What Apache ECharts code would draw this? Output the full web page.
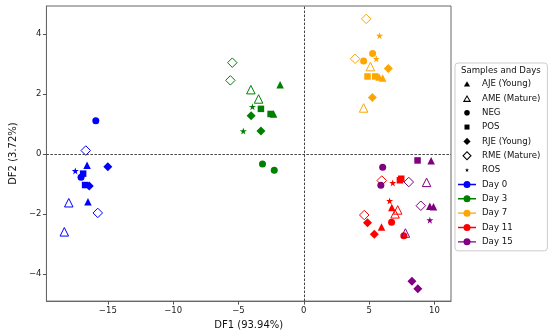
<!DOCTYPE html>
<html>
<head>
<meta charset="utf-8">
<script src="https://cdn.jsdelivr.net/npm/echarts@6/dist/echarts.min.js"></script>
<style>html,body{margin:0;padding:0;background:#fff}#c{width:550px;height:335px}</style>
</head>
<body>
<div id="c"></div>
<script>
// ---- data ----
const sampleCodes = ['AJE', 'AME', 'NEG', 'POS', 'RJE', 'RME', 'ROS'];
const sampleNames = ['AJE (Young)', 'AME (Mature)', 'NEG', 'POS', 'RJE (Young)', 'RME (Mature)', 'ROS'];
const dayNames = ['Day 0', 'Day 3', 'Day 7', 'Day 11', 'Day 15'];
const xTicks = [-15, -10, -5, 0, 5, 10];
const yTicks = [-4, -2, 0, 2, 4];
const xLabel = 'DF1 (93.94%)';
const yLabel = 'DF2 (3.72%)';
const legendTitle = 'Samples and Days';

// [sample, DF1, DF2]
const day0 = [
  ['AJE', -16.59, -0.38], ['AJE', -16.52, -1.60],
  ['AME', -17.99, -1.63], ['AME', -18.33, -2.60],
  ['NEG', -15.92, 1.10], ['NEG', -17.05, -0.78],
  ['POS', -16.89, -0.66], ['POS', -16.74, -1.04],
  ['RJE', -15.00, -0.43], ['RJE', -16.42, -1.07],
  ['RME', -16.69, 0.11], ['RME', -15.77, -1.97],
  ['ROS', -17.49, -0.57]
];
const day3 = [
  ['AJE', -1.81, 2.30], ['AJE', -2.31, 1.33],
  ['AME', -4.05, 2.14], ['AME', -3.46, 1.83],
  ['NEG', -3.16, -0.34], ['NEG', -2.26, -0.55],
  ['POS', -3.28, 1.50], ['POS', -2.54, 1.33],
  ['RJE', -4.03, 1.27], ['RJE', -3.28, 0.76],
  ['RME', -5.47, 3.04], ['RME', -5.62, 2.45],
  ['ROS', -3.93, 1.57], ['ROS', -4.63, 0.76]
];
const day7 = [
  ['AJE', 5.77, 2.56], ['AJE', 6.04, 2.53],
  ['AME', 5.10, 2.91], ['AME', 4.58, 1.53],
  ['NEG', 5.27, 3.35], ['NEG', 4.58, 3.10],
  ['POS', 4.88, 2.58], ['POS', 5.47, 2.58],
  ['RJE', 6.47, 2.85], ['RJE', 5.25, 1.88],
  ['RME', 4.78, 4.50], ['RME', 3.93, 3.17],
  ['ROS', 5.80, 3.94], ['ROS', 5.55, 3.17]
];
const day11 = [
  ['AJE', 6.74, -1.79], ['AJE', 5.95, -2.44],
  ['AME', 7.19, -1.87], ['AME', 6.99, -2.00],
  ['NEG', 6.72, -2.28], ['NEG', 7.66, -2.73],
  ['POS', 7.46, -0.83], ['POS', 7.36, -0.88],
  ['RJE', 4.88, -2.30], ['RJE', 5.40, -2.68],
  ['RME', 5.97, -0.89], ['RME', 4.63, -2.04],
  ['ROS', 6.81, -0.97], ['ROS', 6.57, -1.57]
];
const day15 = [
  ['AJE', 9.75, -0.23], ['AJE', 9.65, -1.75], ['AJE', 9.93, -1.76],
  ['AME', 9.40, -0.95], ['AME', 7.78, -2.64],
  ['NEG', 6.04, -0.45], ['NEG', 5.90, -1.05],
  ['POS', 8.71, -0.22],
  ['RJE', 8.28, -4.25], ['RJE', 8.73, -4.50],
  ['RME', 8.04, -0.94], ['RME', 8.96, -1.73],
  ['ROS', 9.65, -2.21]
];
const dayData = [day0, day3, day7, day11, day15];

// ---- styles ----
const dayColors = ['#0000ff', '#008000', '#ffa500', '#ff0000', '#800080'];
const STAR = 'path://M0,-1 L0.2245,-0.309 L0.951,-0.309 L0.363,0.118 L0.588,0.809 L0,0.382 L-0.588,0.809 L-0.363,0.118 L-0.951,-0.309 L-0.2245,-0.309 Z';
const markerStyle = {
  AJE: { symbol: 'triangle', size: 7.5, open: false },
  AME: { symbol: 'triangle', size: 8.5, open: true },
  NEG: { symbol: 'circle', size: 7, open: false },
  POS: { symbol: 'rect', size: 6.5, open: false },
  RJE: { symbol: 'diamond', size: 9, open: false },
  RME: { symbol: 'diamond', size: 9.5, open: true },
  ROS: { symbol: STAR, size: 7, open: false }
};
const PAD = 'M0,0 M20,10 ';
const legendIcons = {
  AJE: 'path://' + PAD + 'M10,2.2 L13.1,7.6 L6.9,7.6 Z',
  AME: 'path://' + PAD + 'M10,1.6 L14.1,8.6 L5.9,8.6 Z M10,3.7 L7.75,7.5 L12.25,7.5 Z',
  NEG: 'path://' + PAD + 'M7.2,5 A2.8,2.8 0 1 1 12.8,5 A2.8,2.8 0 1 1 7.2,5 Z',
  POS: 'path://' + PAD + 'M7.5,2.5 L12.5,2.5 L12.5,7.5 L7.5,7.5 Z',
  RJE: 'path://' + PAD + 'M10,1.4 L13.6,5 L10,8.6 L6.4,5 Z',
  RME: 'path://' + PAD + 'M10,0.3 L14.7,5 L10,9.7 L5.3,5 Z M10,1.85 L6.85,5 L10,8.15 L13.15,5 Z',
  ROS: 'path://' + PAD + 'M10,2.8 L10.49,4.32 L12.09,4.32 L10.8,5.26 L11.29,6.78 L10,5.84 L8.71,6.78 L9.2,5.26 L7.91,4.32 L9.51,4.32 Z',
  DAY: 'path://' + PAD + 'M1,4.3 L6.6,4.3 L6.6,5.7 L1,5.7 Z M13.4,4.3 L19,4.3 L19,5.7 L13.4,5.7 Z M6.5,5 A3.5,3.5 0 1 1 13.5,5 A3.5,3.5 0 1 1 6.5,5 Z'
};
const FONT = 'DejaVu Sans';

const series = [];
dayData.forEach((pts, di) => {
  const c = dayColors[di];
  const s = {
    name: dayNames[di],
    type: 'scatter',
    silent: true,
    itemStyle: { color: c, opacity: 1 },
    emphasis: { disabled: true },
    data: pts.map(p => {
      const m = markerStyle[p[0]];
      return {
        value: [p[1], p[2]],
        symbol: m.symbol,
        symbolSize: m.size,
        itemStyle: m.open
          ? { color: 'rgba(255,255,255,0)', borderColor: c, borderWidth: 1, opacity: 1 }
          : { color: c, borderWidth: 0, opacity: 1 }
      };
    })
  };
  if (di === 0) {
    s.markLine = {
      silent: true, symbol: 'none', animation: false,
      label: { show: false },
      lineStyle: { color: '#444', width: 1, type: [2.5, 1.5] },
      data: [{ xAxis: 0 }, { yAxis: 0 }]
    };
  }
  series.push(s);
});
sampleCodes.forEach((code, i) => {
  series.push({ name: sampleNames[i], type: 'scatter', data: [], itemStyle: { color: '#000', opacity: 1 } });
});

const legendData = [];
sampleCodes.forEach((code, i) => {
  legendData.push({
    name: sampleNames[i],
    icon: legendIcons[code],
    itemStyle: { color: '#000', borderWidth: 0, opacity: 1 }
  });
});
dayNames.forEach((d, i) => {
  legendData.push({ name: d, icon: legendIcons.DAY, itemStyle: { color: dayColors[i], borderWidth: 0, opacity: 1 } });
});

const minusFmt = v => String(v).replace('-', '\u2212');

const chart = echarts.init(document.getElementById('c'), null, { renderer: 'canvas' });
chart.setOption({
  animation: false,
  backgroundColor: '#fff',
  textStyle: { fontFamily: FONT },
  title: {
    text: legendTitle, left: 461, top: 66, padding: 0,
    textStyle: { fontFamily: FONT, fontSize: 8.6, fontWeight: 'normal', color: '#111' }
  },
  legend: {
    orient: 'vertical', left: 455, top: 63,
    padding: [16, 7, 4, 2],
    itemWidth: 20, itemHeight: 10, itemGap: 4.35,
    borderColor: '#ccc', borderWidth: 1, borderRadius: 3,
    selectedMode: false,
    textStyle: { fontFamily: FONT, fontSize: 8.6, color: '#111' },
    data: legendData
  },
  grid: {
    left: 36, right: 99, top: 6, bottom: 30,
    show: true, borderColor: '#666', borderWidth: 1, backgroundColor: 'transparent'
  },
  xAxis: {
    type: 'value', min: -19.7, max: 11.27,
    name: xLabel, nameLocation: 'middle', nameGap: 16,
    nameTextStyle: { fontFamily: FONT, fontSize: 10, color: '#111' },
    splitLine: { show: false },
    axisLine: { show: true, onZero: false, lineStyle: { color: '#666' } },
    axisTick: { show: true, inside: false, length: 3.5, lineStyle: { color: '#555' }, customValues: xTicks },
    axisLabel: { margin: 5, fontSize: 8.5, color: '#222', fontFamily: FONT, customValues: xTicks, formatter: minusFmt }
  },
  yAxis: {
    type: 'value', min: -4.91, max: 4.93,
    name: yLabel, nameLocation: 'middle', nameGap: 19, nameRotate: 90,
    nameTextStyle: { fontFamily: FONT, fontSize: 10, color: '#111' },
    splitLine: { show: false },
    axisLine: { show: true, onZero: false, lineStyle: { color: '#666' } },
    axisTick: { show: true, inside: false, length: 3.5, lineStyle: { color: '#555' }, customValues: yTicks },
    axisLabel: { margin: 5, fontSize: 8.5, color: '#222', fontFamily: FONT, customValues: yTicks, formatter: minusFmt }
  },
  series: series
});
</script>
</body>
</html>
